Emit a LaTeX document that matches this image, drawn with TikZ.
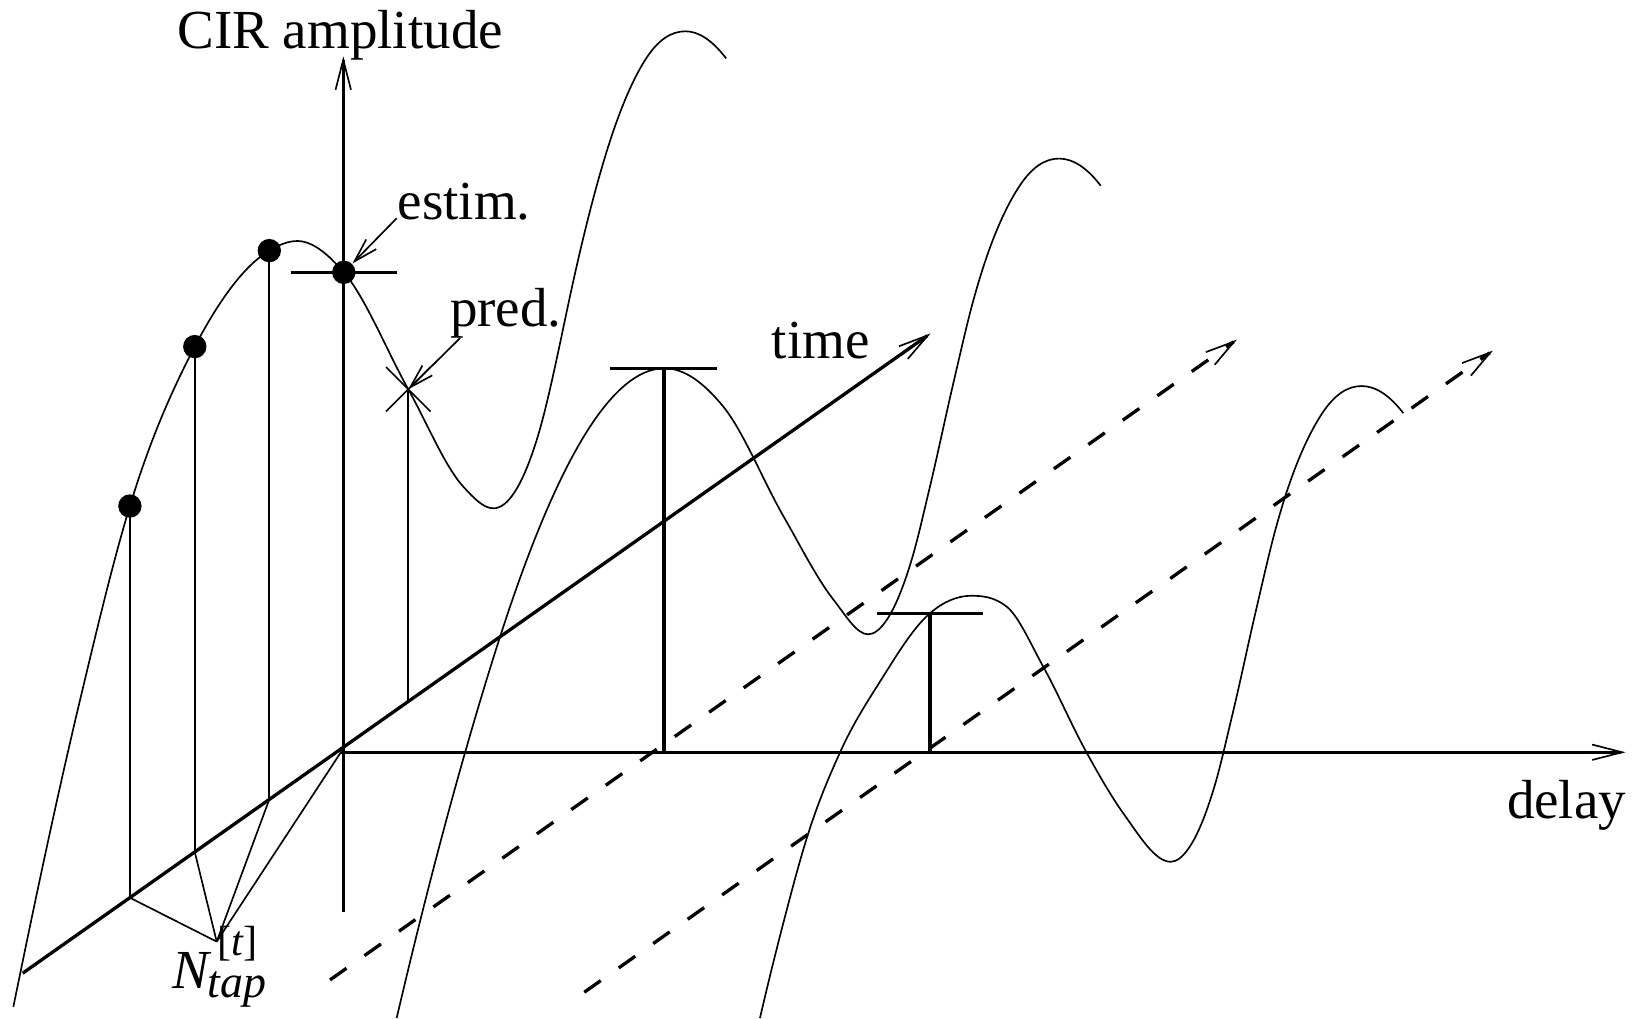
\documentclass[tikz,border=0pt]{standalone}
\usepackage{fontspec}
\setmainfont{Liberation Serif}
\usetikzlibrary{arrows.meta,shapes.misc}
\begin{document}
\begin{tikzpicture}[x=0.01cm,y=-0.01cm,
  thk/.style={line width=0.9pt},
  thn/.style={line width=0.45pt},
  axarrow/.style={thk, -{Straight Barb[length=8.2pt,width=4.2pt,line width=0.45pt]}},
  dasharrow/.style={thk, dash pattern=on 5.5pt off 6pt, -{Straight Barb[length=8pt,width=4.2pt,line width=0.45pt]}},
  pointer/.style={thn, -{Straight Barb[length=6.5pt,width=3.8pt,line width=0.45pt]}},
  lbl/.style={font=\fontsize{15}{18}\selectfont, inner sep=0pt, anchor=base},
  tapdot/.style={circle, fill, inner sep=0pt, minimum size=0.224cm},
  crossmark/.style={cross out, draw, thn, inner sep=0pt, minimum size=0.41cm},
  curve/.style={thn, line join=round}
]
\useasboundingbox (0,0) rectangle (1568,976);

% axes coordinates
\coordinate (vb) at (329,874);
\coordinate (vt) at (329,54);
\coordinate (dO) at (327,721);
\coordinate (dT) at (1558,721);
\coordinate (tS) at (21.7,932.8);
\coordinate (tT) at (892,319.5);
\coordinate (O) at (328,719);
\coordinate (d1S) at (316.3,939.2);
\coordinate (d1T) at (1185.5,325.5);
\coordinate (d2S) at (560,951);
\coordinate (d2T) at (1431,336);

% feet on time axis
\coordinate (fA) at (124.5,860.4);
\coordinate (fB) at (186.7,816.7);
\coordinate (fC) at (258.1,766.2);
\coordinate (fP) at (391.3,672.3);
\coordinate (Np) at (207.7,902.5);

% curve 1 (front slice)
\draw[curve] (12.8,965) .. controls (34.1,860.6) and (55.4,760.2) .. (76.7,671)
 .. controls (92.6,604.3) and (108.6,537.1) .. (124.5,485)
 .. controls (145.2,417.2) and (166.0,371.8) .. (186.7,332.2)
 .. controls (210.5,286.7) and (234.3,254.5) .. (258.1,240.2)
 .. controls (267.1,234.8) and (276.0,231) .. (285,231)
 .. controls (299.8,231) and (314.7,243.9) .. (329.5,261)
 .. controls (350.1,284.7) and (370.7,336.2) .. (391.3,373.1)
 .. controls (408.9,404.5) and (426.4,447.2) .. (444,466.4)
 .. controls (453.6,476.9) and (463.2,487.2) .. (472.8,487.2)
 .. controls (486.7,487.2) and (500.5,466.1) .. (514.4,421.7)
 .. controls (524.6,389.1) and (534.8,337.9) .. (545,290)
 .. controls (556.7,235.2) and (568.3,188.5) .. (580,150)
 .. controls (592.7,108.2) and (605.3,78.3) .. (618,58)
 .. controls (631,37.2) and (644,30) .. (657,30)
 .. controls (670,30) and (683,39.1) .. (696,56);

% curve 2 (middle slice)
\draw[curve] (380.2,975.7) .. controls (402.0,882.5) and (423.9,797.6) .. (445.7,721.4)
 .. controls (465.4,652.6) and (485.1,589.1) .. (504.8,536.7)
 .. controls (548.9,419.5) and (593,353) .. (637,353)
 .. controls (655.8,353) and (674.5,366.7) .. (693.3,389.8)
 .. controls (712.5,413.5) and (731.8,461.5) .. (751,495)
 .. controls (767,522.8) and (783,554.7) .. (799,575)
 .. controls (810,589) and (821,608) .. (832,608)
 .. controls (838,608) and (844,602.9) .. (850,594)
 .. controls (857.9,582.2) and (865.8,562.9) .. (873.7,536.7)
 .. controls (879.6,517.2) and (885.4,490.9) .. (891.3,466.4)
 .. controls (898.8,435.2) and (906.2,399.3) .. (913.7,367.4)
 .. controls (920.1,339.9) and (926.6,310.8) .. (933,287.5)
 .. controls (947.3,235.5) and (961.7,202.5) .. (976,180)
 .. controls (989,159.6) and (1002,152) .. (1015,152)
 .. controls (1028.3,152) and (1041.7,160.7) .. (1055,178);

% curve 3 (back slice)
\draw[curve] (728.4,975.7) .. controls (735.8,943.7) and (743.3,913.4) .. (750.7,884.9)
 .. controls (758.7,854.2) and (766.7,823.7) .. (774.7,798.7)
 .. controls (784.8,767.1) and (794.9,743.7) .. (805,721.4)
 .. controls (817.8,693.1) and (830.6,673.7) .. (843.4,653.3)
 .. controls (859.4,627.9) and (875.3,601.5) .. (891.3,587.8)
 .. controls (904.5,576.4) and (917.8,571) .. (931,571)
 .. controls (942.3,571) and (953.5,572.4) .. (964.8,581.4)
 .. controls (976.5,590.8) and (988.2,617.9) .. (999.9,639)
 .. controls (1013.8,664) and (1027.6,696.3) .. (1041.5,721.4)
 .. controls (1053.2,742.6) and (1064.9,763.2) .. (1076.6,779.5)
 .. controls (1091.7,800.5) and (1106.9,826) .. (1122,826)
 .. controls (1128,826) and (1134,820.9) .. (1140,812)
 .. controls (1147.9,800.2) and (1155.8,780.9) .. (1163.7,754.7)
 .. controls (1169.6,735.2) and (1175.4,708.9) .. (1181.3,684.4)
 .. controls (1188.8,653.2) and (1196.2,617.3) .. (1203.7,585.4)
 .. controls (1210.1,557.9) and (1216.6,528.8) .. (1223,505.5)
 .. controls (1237.3,453.5) and (1251.7,420.5) .. (1266,398)
 .. controls (1279,377.6) and (1292,370) .. (1305,370)
 .. controls (1318.3,370) and (1331.7,378.7) .. (1345,396);

% axes
\draw[axarrow] (vb) -- (vt);
\draw[axarrow] (dO) -- (dT);
\draw[axarrow] (tS) -- (tT);
\draw[dasharrow] (d1S) -- (d1T);
\draw[dasharrow] (d2S) -- (d2T);

% taps
\node[tapdot] (dA) at (124.5,485) {};
\node[tapdot] (dB) at (186.7,332.2) {};
\node[tapdot] (dC) at (258.1,240.2) {};
\node[tapdot] (dD) at (329.5,261) {};
\node[crossmark] (pr) at (391.3,373.1) {};
\draw[thn] (dA.center) -- (fA);
\draw[thn] (dB.center) -- (fB);
\draw[thn] (dC.center) -- (fC);
\draw[thn] (pr.center) -- (fP);

% N_tap lines
\draw[thn] (Np) -- (fA);
\draw[thn] (Np) -- (fB);
\draw[thn] (Np) -- (fC);
\draw[thn] (Np) -- (O);

% bars
\coordinate (b1L) at (278.6,261);
\coordinate (b1R) at (380.2,261);
\draw[thk] (b1L) -- (b1R);
\coordinate (b2L) at (584.6,353);
\coordinate (b2R) at (686.9,353);
\coordinate (b2T) at (636.5,353);
\coordinate (b2B) at (636.5,721);
\draw[thk] (b2L) -- (b2R);
\draw[thk] (b2T) -- (b2B);
\coordinate (b3L) at (840.2,587.8);
\coordinate (b3R) at (942.4,587.8);
\coordinate (b3T) at (891.3,587.8);
\coordinate (b3B) at (891.3,721);
\draw[thk] (b3L) -- (b3R);
\draw[thk] (b3T) -- (b3B);

% labels
\node[lbl] (cir) at (326,46.3) {CIR amplitude};
\node[lbl] (est) at (444.9,210.2) {estim.};
\node[lbl] (prd) at (484.8,313) {pred.};
\node[lbl] (tim) at (786.7,343.4) {time};
\node[lbl] (dly) at (1501.5,784.3) {delay};
\node[lbl, anchor=base west] (ntap) at (164.5,947) {\textit{N}\rlap{\raisebox{9pt}{\fontsize{11.5}{13}\selectfont\kern1.5pt[\textit{t}]}}\raisebox{-2.6pt}{\fontsize{12.5}{14}\selectfont\kern-1pt\textit{tap}}};

% pointers
\coordinate (estfrom) at (380.2,209.2);
\coordinate (prdfrom) at (441,324);
\draw[pointer] (estfrom) -- (dD);
\draw[pointer] (prdfrom) -- (pr.center);
\end{tikzpicture}
\end{document}
